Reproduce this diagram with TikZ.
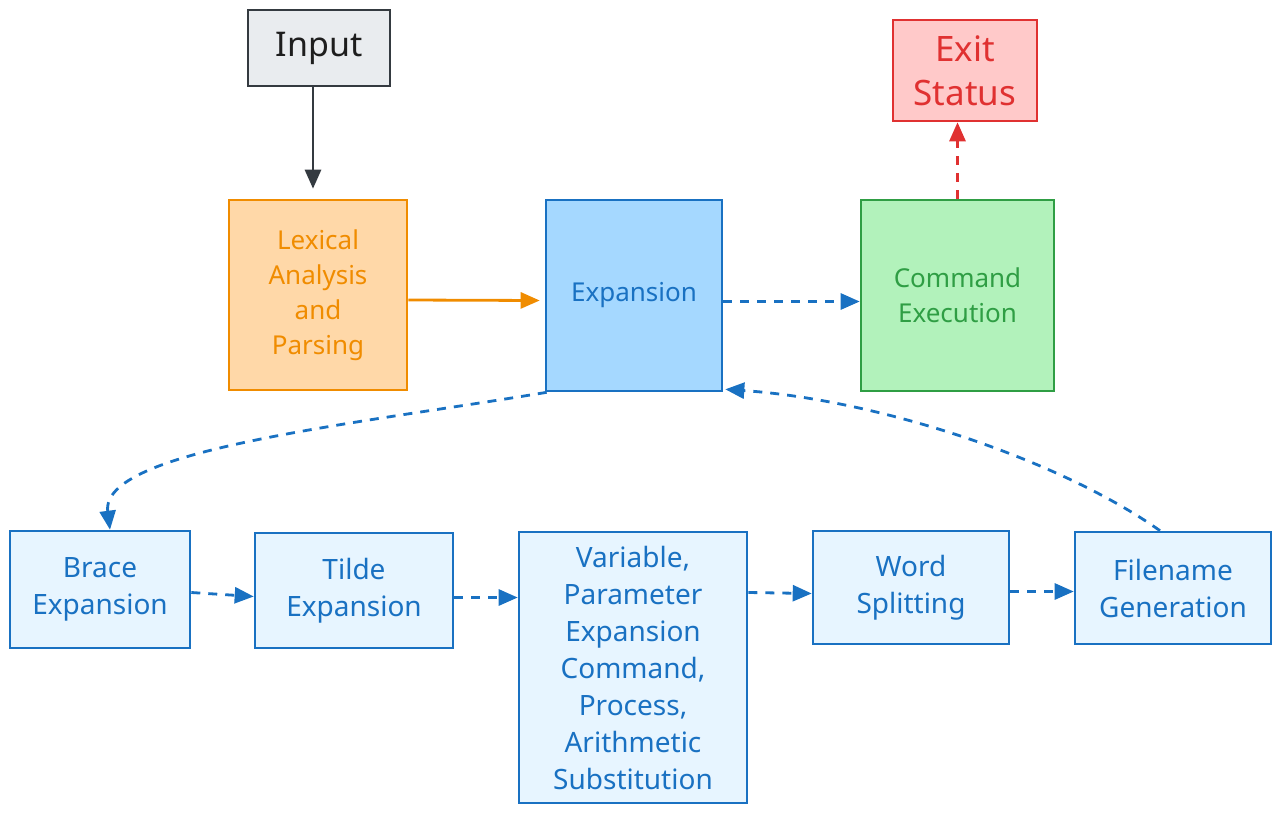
\documentclass[tikz,border=0pt]{standalone}
\usepackage{fontspec}
\setmainfont{Noto Sans}
\usetikzlibrary{arrows.meta}
\definecolor{inpfill}{HTML}{E9ECEF}
\definecolor{inpline}{HTML}{343A40}
\definecolor{inptext}{HTML}{1E1E1E}
\definecolor{lexfill}{HTML}{FFD8A8}
\definecolor{lexline}{HTML}{F08C00}
\definecolor{expfill}{HTML}{A5D8FF}
\definecolor{blueline}{HTML}{1971C2}
\definecolor{cmdfill}{HTML}{B2F2BB}
\definecolor{cmdline}{HTML}{2F9E44}
\definecolor{exitfill}{HTML}{FFC9C9}
\definecolor{exitline}{HTML}{E03131}
\definecolor{subfill}{HTML}{E7F5FF}
\tikzset{
  box/.style={rectangle, draw, line width=2.6pt, inner sep=0pt, align=center},
  inpbox/.style={box, fill=inpfill, draw=inpline, text=inptext},
  lexbox/.style={box, fill=lexfill, draw=lexline, text=lexline},
  expbox/.style={box, fill=expfill, draw=blueline, text=blueline},
  cmdbox/.style={box, fill=cmdfill, draw=cmdline, text=cmdline},
  exitbox/.style={box, fill=exitfill, draw=exitline, text=exitline},
  subbox/.style={box, fill=subfill, draw=blueline, text=blueline},
  conn/.style={line width=2.8pt, -{Triangle[length=19pt,width=16pt]}},
  dconn/.style={conn, dash pattern=on 9pt off 8pt},
  finp/.style={font=\fontsize{34}{44}\selectfont},
  fexit/.style={font=\fontsize{35}{44}\selectfont},
  fmid/.style={font=\fontsize{26}{35}\selectfont},
  fsub/.style={font=\fontsize{28}{37}\selectfont},
}
\begin{document}
\begin{tikzpicture}[x=1pt,y=-1pt]
\useasboundingbox (0,0) rectangle (1281,814);
\node[inpbox, finp, minimum width=142pt, minimum height=76pt] (inp) at (319,48) {Input};
\node[lexbox, fmid, minimum width=178pt, minimum height=190pt] (lex) at (318,295) {Lexical\\Analysis\\and\\Parsing};
\node[expbox, fmid, minimum width=176pt, minimum height=191pt] (exp) at (634,295.5) {Expansion};
\node[cmdbox, fmid, minimum width=193pt, minimum height=191pt] (cmd) at (957.5,295.5) {Command\\Execution};
\node[exitbox, fexit, minimum width=144pt, minimum height=101pt] (exit) at (965,70.5) {Exit\\Status};
\node[subbox, fsub, minimum width=180pt, minimum height=117pt] (brace) at (100,589.5) {Brace\\Expansion};
\node[subbox, fsub, minimum width=198pt, minimum height=115pt] (tilde) at (354,590.5) {Tilde\\Expansion};
\node[subbox, fsub, minimum width=228pt, minimum height=271pt] (var) at (633,667.5) {Variable,\\Parameter\\Expansion\\Command,\\Process,\\Arithmetic\\Substitution};
\node[subbox, fsub, minimum width=196pt, minimum height=113pt] (word) at (911,587.5) {Word\\Splitting};
\node[subbox, fsub, minimum width=196pt, minimum height=112pt] (fil) at (1173,588) {Filename\\Generation};

\draw[conn, inpline] ([xshift=-6pt]inp.south) -- ([xshift=-5pt,yshift=10pt]lex.north);
\draw[conn, lexline] ([yshift=-5pt]lex.east) -- ([yshift=-5pt,xshift=-5pt]exp.west);
\draw[dconn, blueline] ([yshift=-6pt]exp.east) -- ([yshift=-6pt]cmd.west);
\draw[dconn, exitline] (cmd.north) -- (cmd.north |- exit.south);
\draw[dconn, blueline] ([xshift=2pt]exp.south west) .. controls (350,425) and (100,450) .. ([xshift=10pt]brace.north);
\draw[dconn, blueline] ([xshift=-13pt]fil.north) .. controls (1060,460) and (880,400) .. ([xshift=2pt,yshift=3pt]exp.south east);
\draw[dconn, blueline] ([yshift=-3pt]brace.east) -- ([yshift=-6pt]tilde.west);
\draw[dconn, blueline] ([yshift=-7pt]tilde.east) -- ([yshift=-7pt]tilde.east -| var.west);
\draw[dconn, blueline] ([yshift=-5pt]word.west -| var.east) -- ([yshift=-6pt]word.west);
\draw[dconn, blueline] ([yshift=-4pt]word.east) -- ([yshift=-4pt]word.east -| fil.west);
\end{tikzpicture}
\end{document}
